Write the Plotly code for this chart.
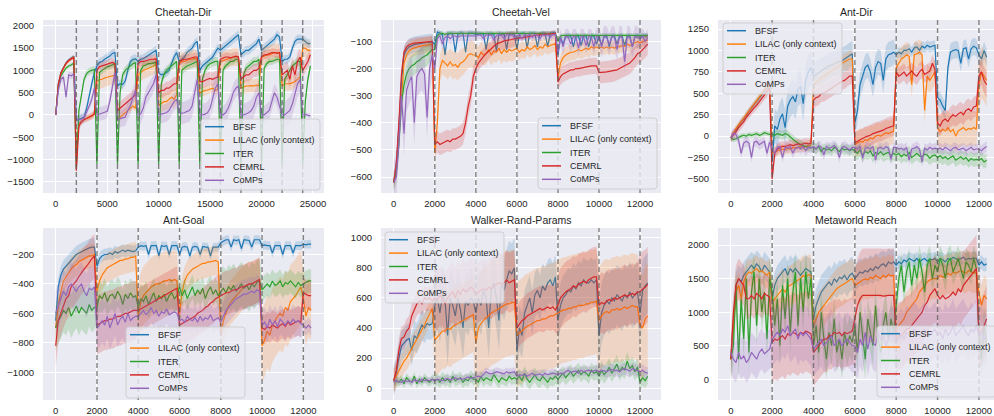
import plotly.graph_objects as go

# ---------------- data ----------------
series_names = ["BFSF", "LILAC (only context)", "ITER", "CEMRL", "CoMPs"]
series_colors = ["#1f77b4", "#ff7f0e", "#2ca02c", "#d62728", "#9467bd"]

panel_titles = ["Cheetah-Dir", "Cheetah-Vel", "Ant-Dir", "Ant-Goal", "Walker-Rand-Params", "Metaworld Reach"]
panel_steps = [250, 125, 125, 125, 125, 125]          # training-step spacing between samples
phase_length = 2000                                     # task switch every 2000 steps
task_switches_long = [2000, 4000, 6000, 8000, 10000, 12000, 14000, 16000, 18000, 20000, 22000, 24000]
task_switches_short = [2000, 4000, 6000, 8000, 10000, 12000]

# Cheetah-Dir (step 250)
cd_bfsf = [0, 700, 950, 1080, 1170, 1230, 1280, 1320,
           -120, -100, -80, -50, 150, 450, 700, 950,
           1100, 1180, 1200, 1250, 1280, 1320, 1380, 1400,
           650, 700, 680, 760, 1000, 1200, 1250, 1260,
           1200, 1250, 1260, 1300, 1350, 1380, 1420, 1450,
           950, 900, 920, 950, 1000, 1150, 1300, 1400,
           1200, 1250, 1300, 1400, 1450, 1500, 1600, 1650,
           1000, 1100, 1150, 1200, 1250, 1300, 1400, 1500,
           1450, 1500, 1550, 1600, 1650, 1700, 1750, 1800,
           1350, 1400, 1450, 1450, 1500, 1550, 1600, 1700,
           1450, 1500, 1550, 1600, 1650, 1700, 1800, 1750,
           1200, 1250, 1250, 1300, 1500, 1650, 1700, 1700,
           1700, 1650, 1600, 1600]
cd_lilac = [0, 680, 930, 1060, 1150, 1210, 1260, 1300,
            -800, -200, -150, -100, -80, -50, -30, 30,
            760, 790, 800, 830, 850, 860, 880, 890,
            -100, -50, 0, 50, 100, 150, 200, 150,
            900, 950, 1000, 1020, 1050, 1080, 1100, 1150,
            200, 250, 300, 300, 350, 400, 350, 450,
            1150, 1200, 1200, 1220, 1250, 1250, 1270, 1250,
            500, 520, 550, 560, 580, 600, 550, 580,
            1200, 1220, 1250, 1270, 1280, 1300, 1300, 1300,
            600, 620, 650, 650, 660, 650, 670, 650,
            1300, 1320, 1350, 1350, 1380, 1400, 1400, 1400,
            650, 700, 700, 700, 720, 750, 800, 850,
            1500, 1500, 1450, 1450]
cd_iter = [0, 650, 880, 980, 1050, 1100, 1120, 1160,
           -1200, 100, 500, 800, 930, 980, 1000, 1020,
           -1100, 950, 1000, 1050, 1080, 1100, 1130, 1150,
           -1100, 500, 900, 1000, 1050, 1100, 1150, 1170,
           -1100, 1000, 1100, 1120, 1150, 1150, 1170, 1180,
           -1100, 700, 900, 1000, 1050, 1100, 1150, 1200,
           -1100, 1000, 1050, 1100, 1120, 1150, 1180, 1200,
           -1100, 800, 1000, 1100, 1150, 1180, 1200, 1200,
           -1100, 1000, 1100, 1150, 1200, 1200, 1250, 1250,
           -1100, 900, 1050, 1100, 1150, 1200, 1200, 1250,
           -1100, 1050, 1150, 1200, 1200, 1220, 1250, 1250,
           -1100, 800, 900, 1000, 1100, 1150, 1200, 1200,
           -1100, 300, 800, 1100]
cd_cemrl = [0, 690, 940, 1070, 1160, 1220, 1260, 1290,
            -1250, -250, -150, -100, -80, -50, -20, 20,
            1000, 1080, 1100, 1120, 1150, 1160, 1180, 1150,
            100, 150, 200, 250, 300, 350, 420, 450,
            1150, 1200, 1200, 1220, 1230, 1250, 1250, 1260,
            500, 550, 550, 600, 600, 650, 700, 700,
            1200, 1230, 1250, 1250, 1270, 1280, 1300, 1300,
            750, 750, 780, 800, 820, 800, 830, 850,
            1250, 1280, 1300, 1300, 1280, 1300, 1320, 1300,
            800, 850, 900, 900, 950, 1000, 1000, 1050,
            1300, 1350, 1350, 1380, 1400, 1400, 1380, 1400,
            900, 950, 1000, 800, 1100, 900, 1200, 1300,
            1000, 1100, 1200, 1350]
cd_comps = [0, 550, 800, 850, 400, 900, 880, 920,
            -100, -100, -90, -70, 50, 200, 350, 600,
            0, 20, 40, 50, 80, 300, 650, 950,
            -100, -80, -60, -50, 100, 200, 400, 550,
            0, 20, 150, 400, 500, 600, 700, 900,
            0, 20, 30, 50, 100, 200, 300, 350,
            50, 40, 50, 80, 100, 200, 500, 800,
            0, 0, 20, 50, 150, 400, 600, 700,
            0, 0, 50, 150, 300, 500, 600, 650,
            0, 0, 20, 50, 100, 200, 400, 500,
            0, 0, 50, 100, 300, 500, 400, 200,
            0, 0, 50, 100, 250, 500, 700, 800,
            0, 10, 0, -20]

# Cheetah-Vel (step 125)
cv_bfsf = [-620, -560, -420, -250, -150, -130, -120, -115, -112, -110, -108, -106, -105, -104, -103, -102,
           -110, -65, -70, -75, -150, -75, -70, -72, -140, -72, -70, -70, -140, -70, -70, -70,
           -75, -72, -72, -72, -130, -72, -72, -72, -135, -72, -72, -72, -130, -72, -72, -72,
           -130, -72, -70, -70, -125, -70, -70, -70, -120, -70, -70, -70, -120, -70, -68, -68,
           -150, -85, -110, -80, -80, -80, -120, -80, -80, -115, -80, -80, -120, -80, -80, -110,
           -80, -115, -80, -80, -120, -80, -80, -110, -80, -80, -115, -80, -80, -120, -80, -80,
           -80, -78, -78, -80]
cv_lilac = [-620, -570, -450, -300, -180, -150, -135, -128, -124, -120, -118, -116, -115, -113, -112, -110,
            -510, -400, -200, -170, -180, -190, -175, -190, -185, -195, -180, -175, -165, -150, -145, -150,
            -150, -160, -140, -150, -145, -130, -150, -135, -140, -125, -145, -130, -140, -130, -135, -130,
            -125, -140, -130, -135, -120, -130, -125, -115, -130, -120, -125, -110, -120, -115, -110, -108,
            -230, -180, -160, -150, -145, -140, -140, -135, -130, -135, -130, -125, -130, -120, -125, -120,
            -125, -120, -125, -120, -125, -120, -125, -118, -120, -115, -118, -110, -115, -110, -105, -100,
            -105, -100, -98, -95]
cv_iter = [-620, -580, -480, -330, -260, -220, -200, -190, -185, -175, -170, -160, -155, -150, -140, -130,
           -130, -80, -70, -70, -75, -70, -70, -70, -72, -70, -70, -70, -72, -70, -70, -70,
           -72, -72, -70, -72, -72, -70, -72, -72, -70, -72, -72, -70, -72, -72, -70, -72,
           -72, -70, -70, -72, -70, -70, -72, -70, -70, -72, -70, -70, -72, -70, -70, -70,
           -100, -80, -78, -78, -80, -78, -78, -80, -78, -78, -80, -78, -78, -80, -78, -78,
           -78, -80, -78, -78, -80, -78, -78, -80, -78, -78, -80, -78, -78, -80, -78, -78,
           -78, -80, -78, -78]
cv_cemrl = [-620, -550, -400, -220, -140, -120, -112, -108, -106, -105, -104, -103, -102, -101, -100, -100,
            -480, -470, -480, -475, -470, -465, -470, -460, -460, -455, -450, -440, -400, -340, -300, -230,
            -200, -180, -165, -155, -145, -135, -125, -118, -110, -105, -100, -98, -96, -95, -93, -90,
            -88, -87, -86, -85, -84, -82, -80, -78, -77, -75, -74, -73, -72, -71, -70, -70,
            -250, -230, -220, -215, -210, -205, -205, -200, -200, -198, -195, -195, -192, -190, -190, -190,
            -215, -215, -213, -212, -210, -210, -208, -205, -200, -195, -190, -185, -180, -170, -160, -145,
            -140, -130, -120, -110]
cv_comps = [-620, -600, -480, -300, -440, -280, -250, -230, -400, -230, -210, -200, -220, -380, -200, -150,
            -200, -90, -80, -110, -85, -80, -90, -80, -80, -85, -80, -80, -80, -80, -80, -80,
            -80, -75, -78, -90, -75, -78, -75, -95, -78, -75, -78, -90, -75, -78, -75, -85,
            -78, -75, -90, -75, -78, -75, -85, -75, -78, -90, -75, -78, -75, -85, -75, -75,
            -140, -85, -120, -82, -85, -110, -82, -85, -125, -82, -85, -115, -82, -85, -120, -82,
            -85, -120, -82, -85, -110, -82, -85, -130, -82, -85, -175, -82, -85, -120, -82, -85,
            -90, -82, -100, -85]

# Ant-Dir (step 125)
ad_bfsf = [-20, 30, 80, 120, 170, 200, 250, 290, 330, 370, 400, 450, 480, 520, 560, 600,
           -300, 120, 80, 200, 260, 100, 350, 420, 460, 400, 550, 580, 380, 650, 750, 800,
           700, 720, 750, 760, 780, 800, 820, 830, 850, 860, 870, 880, 900, 920, 950, 960,
           150, 300, 600, 700, 800, 830, 750, 600, 800, 870, 850, 650, 900, 950, 960, 980,
           950, 980, 960, 1000, 1000, 1020, 980, 1030, 1040, 1000, 1050, 1030, 1060, 1040, 1050, 1060,
           450, 420, 350, 300, 800, 980, 1000, 1010, 1000, 850, 1020, 1030, 900, 1020, 1050, 1030,
           950, 900, 1000, 920]
ad_lilac = [-20, 40, 90, 130, 170, 210, 250, 300, 340, 380, 420, 460, 500, 540, 580, 620,
            -200, -180, -170, -160, -150, -160, -140, -150, -130, -140, -130, -120, -130, -120, -110, -100,
            600, 630, 650, 680, 700, 720, 750, 770, 790, 800, 820, 850, 870, 880, 900, 900,
            -100, -80, -60, -70, -40, -50, -20, -30, 0, 10, 0, 20, 40, 30, 50, 60,
            800, 850, 900, 920, 950, 930, 600, 950, 960, 980, 950, 300, 700, 650, 700, 750,
            100, 50, 80, 60, 100, 50, 80, 0, 60, 80, 100, 70, 90, 80, 100, 80,
            600, 750, 700, 650]
ad_iter = [-20, -40, -30, -10, 0, 10, 0, 20, 10, 20, 30, 10, 20, 40, 30, 20,
           20, 10, 30, 20, 10, 30, 20, -10, -40, -60, -80, -100, -110, -120, -130, -130,
           -130, -150, -120, -180, -140, -160, -150, -170, -130, -150, -180, -140, -160, -150, -170, -150,
           -180, -200, -160, -220, -180, -200, -170, -230, -190, -210, -180, -220, -200, -190, -230, -200,
           -220, -200, -240, -210, -230, -190, -250, -220, -200, -230, -240, -210, -220, -260, -230, -220,
           -250, -230, -260, -240, -270, -250, -230, -280, -260, -240, -270, -250, -290, -260, -280, -270,
           -280, -260, -300, -280]
ad_cemrl = [-20, 10, 50, 100, 130, 170, 220, 260, 300, 330, 360, 400, 430, 470, 510, 560,
            -500, -200, -150, -130, -120, -120, -110, -100, -110, -100, -90, -100, -90, -80, -90, -80,
            420, 450, 460, 500, 500, 520, 550, 560, 580, 600, 620, 640, 650, 680, 700, 700,
            -80, -60, -40, -30, -10, 0, 10, 30, 40, 50, 60, 70, 90, 100, 110, 120,
            750, 700, 720, 750, 700, 730, 760, 720, 700, 750, 780, 720, 740, 760, 850, 780,
            150, 120, 180, 200, 170, 220, 250, 230, 260, 280, 250, 300, 320, 290, 340, 350,
            700, 750, 650, 600]
ad_comps = [-20, 30, 20, -50, -200, -80, -60, -80, -250, -70, -60, -100, -80, -60, -200, -70,
            -150, -200, -130, -120, -250, -130, -140, -120, -200, -140, -130, -150, -120, -170, -130, -140,
            -120, -150, -110, -130, -220, -120, -140, -130, -110, -140, -250, -130, -120, -140, -160, -130,
            -130, -150, -120, -260, -140, -130, -150, -120, -280, -140, -130, -150, -120, -140, -270, -130,
            -130, -150, -140, -160, -130, -280, -150, -140, -120, -150, -300, -140, -160, -130, -150, -140,
            -150, -140, -160, -130, -150, -170, -140, -130, -160, -150, -140, -170, -150, -130, -160, -150,
            -150, -170, -140, -120]

# Ant-Goal (step 125)
ag_bfsf = [-650, -420, -340, -300, -280, -260, -240, -220, -200, -190, -180, -170, -160, -155, -150, -150,
           -280, -230, -210, -200, -200, -190, -200, -180, -190, -180, -170, -180, -170, -175, -180, -175,
           -150, -140, -145, -140, -200, -140, -140, -140, -210, -140, -145, -140, -200, -140, -140, -140,
           -200, -150, -145, -150, -210, -150, -145, -150, -200, -145, -150, -150, -210, -150, -150, -150,
           -120, -110, -100, -100, -150, -100, -105, -100, -160, -100, -100, -105, -150, -100, -100, -100,
           -140, -135, -140, -140, -190, -140, -140, -140, -200, -140, -140, -140, -190, -140, -140, -140,
           -130, -135, -130, -130]
ag_lilac = [-700, -550, -450, -380, -350, -320, -300, -280, -270, -250, -240, -230, -220, -210, -210, -200,
            -450, -380, -340, -310, -290, -280, -270, -260, -250, -240, -240, -230, -230, -220, -220, -210,
            -620, -520, -480, -460, -440, -420, -410, -400, -400, -390, -380, -380, -370, -380, -370, -380,
            -600, -450, -380, -340, -320, -300, -290, -280, -270, -260, -260, -250, -250, -245, -240, -250,
            -750, -650, -600, -550, -520, -500, -480, -460, -440, -420, -410, -400, -400, -390, -380, -370,
            -820, -780, -720, -750, -680, -650, -620, -600, -620, -560, -580, -520, -500, -480, -450, -420,
            -500, -620, -560, -580]
ag_iter = [-700, -650, -620, -580, -600, -560, -620, -580, -550, -600, -560, -580, -600, -540, -580, -560,
           -560, -480, -500, -460, -520, -480, -470, -500, -450, -480, -540, -470, -500, -460, -490, -480,
           -560, -500, -520, -480, -540, -500, -460, -520, -480, -500, -470, -520, -480, -460, -500, -480,
           -420, -480, -440, -500, -460, -420, -480, -440, -470, -430, -500, -450, -420, -470, -440, -480,
           -450, -430, -460, -420, -440, -410, -450, -420, -400, -430, -410, -440, -400, -420, -390, -380,
           -440, -420, -400, -420, -380, -410, -400, -380, -420, -390, -400, -380, -400, -420, -390, -410,
           -400, -390, -380, -380]
ag_cemrl = [-820, -650, -600, -550, -500, -480, -420, -400, -380, -350, -320, -300, -280, -250, -230, -210,
            -680, -670, -660, -650, -650, -640, -640, -630, -620, -620, -610, -600, -600, -590, -580, -580,
            -580, -570, -560, -550, -540, -530, -520, -510, -500, -490, -480, -470, -460, -450, -440, -430,
            -680, -670, -660, -650, -640, -630, -620, -600, -590, -580, -560, -550, -530, -520, -500, -490,
            -480, -470, -460, -460, -450, -440, -440, -430, -420, -420, -410, -400, -400, -390, -380, -370,
            -700, -710, -690, -700, -680, -690, -700, -680, -670, -690, -660, -680, -670, -660, -650, -660,
            -460, -470, -480, -480]
ag_comps = [-600, -550, -500, -450, -480, -420, -400, -430, -450, -420, -400, -450, -480, -430, -440, -420,
            -700, -680, -650, -680, -620, -700, -650, -600, -680, -640, -620, -660, -600, -650, -630, -620,
            -620, -600, -580, -610, -590, -560, -600, -580, -620, -590, -600, -570, -610, -600, -590, -600,
            -650, -640, -660, -620, -640, -650, -630, -660, -620, -650, -630, -640, -610, -650, -640, -630,
            -660, -620, -580, -560, -540, -520, -500, -490, -480, -470, -470, -460, -450, -460, -440, -450,
            -680, -660, -700, -640, -680, -650, -690, -640, -660, -680, -650, -670, -640, -660, -650, -670,
            -680, -700, -680, -700]

# Walker-Rand-Params (step 125)
wk_bfsf = [50, 100, 200, 280, 300, 320, 330, 250, 350, 330, 380, 420, 400, 430, 420, 430,
           550, 600, 500, 620, 580, 350, 600, 550, 480, 600, 520, 400, 580, 550, 600, 580,
           500, 600, 550, 650, 600, 400, 650, 700, 600, 450, 700, 650, 720, 780, 760, 800,
           250, 400, 350, 500, 550, 600, 500, 620, 650, 600, 680, 650, 700, 720, 680, 740,
           450, 550, 600, 620, 650, 640, 680, 660, 700, 680, 720, 700, 700, 720, 700, 720,
           350, 500, 550, 580, 560, 600, 580, 620, 600, 580, 620, 600, 640, 600, 620, 640,
           500, 650, 680, 700]
wk_lilac = [50, 80, 120, 150, 180, 200, 230, 260, 290, 320, 350, 380, 420, 460, 500, 530,
            320, 340, 360, 380, 380, 400, 390, 410, 420, 430, 440, 450, 460, 470, 480, 490,
            300, 400, 430, 450, 470, 480, 500, 510, 520, 530, 540, 550, 560, 560, 570, 570,
            350, 370, 380, 400, 410, 420, 430, 440, 450, 450, 460, 460, 470, 480, 480, 490,
            500, 510, 520, 520, 530, 530, 540, 540, 550, 550, 550, 560, 560, 570, 570, 580,
            450, 480, 500, 510, 500, 520, 520, 530, 520, 530, 540, 530, 540, 550, 540, 540,
            420, 400, 460, 480]
wk_iter = [40, 50, 40, 60, 30, 70, 50, 40, 80, 30, 60, 40, 70, 50, 40, 60,
           50, 60, 40, 70, 50, 60, 40, 80, 50, 60, 70, 40, 60, 50, 80, 60,
           60, 40, 80, 50, 70, 60, 50, 90, 60, 40, 70, 60, 50, 80, 60, 70,
           60, 80, 50, 100, 60, 40, 70, 90, 60, 50, 80, 60, 40, 70, 60, 80,
           60, 80, 100, 70, 90, 110, 80, 100, 120, 90, 110, 100, 80, 120, 100, 110,
           80, 120, 90, 110, 140, 100, 130, 160, 110, 140, 120, 180, 130, 150, 110, 140,
           40, 70, 50, 80]
wk_cemrl = [50, 120, 250, 330, 340, 380, 400, 480, 520, 560, 580, 560, 600, 590, 600, 580,
            600, 580, 620, 590, 560, 600, 620, 640, 600, 650, 620, 660, 640, 650, 670, 660,
            620, 640, 650, 660, 650, 670, 660, 680, 690, 700, 690, 700, 720, 700, 710, 720,
            400, 430, 450, 460, 480, 490, 500, 510, 520, 530, 520, 530, 540, 530, 540, 520,
            550, 600, 620, 640, 650, 660, 680, 670, 690, 700, 710, 700, 720, 730, 740, 740,
            550, 570, 560, 580, 590, 580, 600, 590, 600, 610, 620, 610, 620, 630, 620, 640,
            640, 660, 670, 690]
wk_comps = [40, 50, 45, 40, 50, 45, 50, 40, 55, 50, 45, 60, 50, 55, 50, 60,
            50, 60, 55, 50, 60, 65, 55, 60, 70, 60, 65, 60, 70, 75, 65, 70,
            70, 80, 75, 90, 110, 100, 95, 100, 110, 105, 100, 95, 110, 100, 105, 110,
            80, 90, 85, 95, 80, 90, 100, 85, 90, 95, 85, 100, 90, 95, 100, 95,
            90, 100, 95, 110, 120, 105, 110, 115, 100, 120, 110, 115, 120, 110, 115, 120,
            110, 120, 115, 110, 120, 125, 115, 120, 110, 125, 130, 120, 115, 130, 125, 120,
            110, 120, 105, 100]

# Metaworld Reach (step 125)
mw_bfsf = [300, 900, 1400, 1500, 1450, 1550, 1600, 1650, 1700, 1650, 1720, 1680, 1600, 1700, 1650, 1600,
           1200, 1400, 1500, 1550, 1600, 1650, 1550, 1650, 1600, 1650, 1600, 1550, 1600, 1650, 1620, 1600,
           900, 1100, 1200, 1300, 1350, 1400, 1450, 1400, 1500, 1450, 1520, 1500, 1550, 1480, 1550, 1580,
           1500, 1550, 1600, 1580, 1620, 1600, 1650, 1620, 1680, 1650, 1700, 1720, 1680, 1750, 1720, 1750,
           1700, 1750, 1720, 1780, 1750, 1800, 1780, 1760, 1800, 1750, 1780, 1800, 1760, 1790, 1780, 1800,
           1750, 1800, 1780, 1750, 1800, 1780, 1820, 1800, 1780, 1800, 1820, 1780, 1800, 1790, 1810, 1800,
           1700, 1750, 1700, 1720]
mw_lilac = [300, 800, 1300, 1400, 1200, 1450, 1550, 1600, 1580, 1620, 1650, 1600, 1620, 1580, 1550, 1600,
            1150, 1200, 1250, 1300, 1350, 1300, 1380, 1400, 1420, 1450, 1480, 1500, 1550, 1520, 1560, 1550,
            800, 900, 1000, 1050, 1100, 1150, 1200, 1250, 1300, 1350, 1380, 1400, 1420, 1450, 1480, 1500,
            1400, 1420, 1450, 1480, 1500, 1480, 1520, 1500, 1550, 1520, 1500, 1550, 1520, 1560, 1540, 1550,
            700, 800, 850, 900, 1000, 1050, 1100, 1150, 1200, 1300, 1350, 1400, 1450, 1480, 1500, 1500,
            1500, 1550, 1520, 1550, 1580, 1550, 1600, 1580, 1600, 1620, 1600, 1580, 1620, 1600, 1580, 1600,
            1300, 1100, 1250, 1200]
mw_iter = [300, 500, 1400, 300, 1200, 600, 1500, 400, 1300, 1600, 800, 1500, 1000, 1300, 600, 1500,
           1300, 800, 1200, 500, 1400, 900, 1500, 700, 1300, 1600, 800, 1500, 1000, 1600, 1200, 1500,
           500, 800, 400, 1000, 600, 300, 700, 500, 900, 400, 600, 300, 700, 500, 650, 550,
           800, 400, 1000, 600, 300, 900, 700, 500, 1100, 600, 400, 800, 1000, 600, 900, 700,
           1100, 1500, 1700, 1300, 1600, 1750, 1400, 1700, 1500, 1800, 1600, 1300, 1700, 1800, 1500, 1700,
           1600, 1800, 1700, 1500, 1750, 1800, 1600, 1700, 1800, 1650, 1500, 1750, 1700, 1600, 1800, 1650,
           700, 300, 800, 500]
mw_cemrl = [300, 1000, 1400, 1500, 1450, 1400, 1200, 1200, 1250, 1200, 1280, 1250, 1200, 1280, 1250, 1230,
            550, 600, 580, 620, 650, 600, 680, 650, 700, 680, 650, 700, 680, 720, 700, 680,
            400, 450, 500, 550, 600, 600, 650, 650, 700, 680, 700, 650, 700, 680, 700, 720,
            900, 1100, 1200, 1250, 1250, 1250, 1250, 1260, 1250, 1250, 1250, 1240, 1250, 1250, 1250, 1250,
            600, 650, 650, 700, 750, 750, 800, 850, 900, 950, 1000, 1100, 1150, 1250, 1300, 1350,
            1250, 1200, 1250, 1200, 1220, 1250, 1300, 1250, 1350, 1300, 1400, 1450, 1500, 1550, 1600, 1650,
            650, 700, 800, 900]
mw_comps = [400, 300, 250, 400, 300, 350, 250, 300, 400, 350, 300, 400, 450, 380, 420, 450,
            600, 650, 700, 650, 750, 700, 800, 650, 700, 750, 600, 700, 650, 700, 650, 600,
            450, 500, 550, 600, 500, 550, 600, 650, 500, 550, 600, 500, 550, 600, 550, 500,
            500, 400, 600, 500, 700, 450, 650, 550, 500, 700, 600, 650, 500, 600, 700, 650,
            550, 600, 650, 600, 700, 650, 700, 750, 700, 650, 700, 750, 700, 650, 700, 750,
            650, 700, 600, 750, 650, 700, 800, 650, 700, 750, 800, 700, 650, 750, 700, 800,
            650, 700, 600, 650]

# half-width of the shaded confidence band, one value per task phase
cd_band = [[40, 100, 100, 100, 100, 100, 100, 100, 100, 100, 100, 100, 100],
           [40, 60, 200, 80, 200, 200, 200, 100, 200, 150, 200, 150, 200],
           [40, 80, 80, 100, 80, 100, 100, 100, 80, 100, 80, 100, 100],
           [40, 80, 100, 150, 100, 150, 100, 150, 100, 150, 100, 200, 150],
           [80, 100, 150, 200, 200, 200, 250, 250, 200, 250, 200, 300, 50]]
cv_band = [[30, 10, 8, 8, 10, 10, 10],
           [30, 50, 40, 30, 30, 25, 20],
           [40, 8, 8, 8, 8, 8, 8],
           [20, 40, 30, 10, 30, 40, 40],
           [80, 20, 15, 15, 30, 40, 30]]
ad_band = [[40, 200, 150, 150, 60, 100, 100],
           [40, 60, 100, 150, 150, 200, 300],
           [30, 50, 60, 80, 80, 80, 80],
           [50, 60, 100, 120, 100, 120, 150],
           [60, 60, 60, 60, 60, 60, 60]]
ag_band = [[60, 40, 30, 30, 30, 30, 30],
           [80, 100, 200, 100, 150, 250, 200],
           [150, 100, 100, 80, 150, 80, 80],
           [150, 200, 150, 150, 150, 100, 100],
           [150, 150, 100, 80, 100, 100, 50]]
wk_band = [[100, 200, 200, 150, 150, 200, 200],
           [80, 250, 350, 350, 350, 350, 350],
           [30, 40, 40, 50, 50, 60, 50],
           [80, 200, 200, 150, 200, 200, 250],
           [20, 25, 30, 30, 30, 40, 40]]
mw_band = [[200, 200, 250, 200, 100, 100, 100],
           [200, 300, 300, 300, 300, 300, 300],
           [300, 300, 300, 300, 200, 200, 300],
           [300, 600, 500, 700, 500, 500, 500],
           [300, 400, 400, 400, 400, 400, 400]]

# ---------------- figure ----------------
panel_series = [
    [cd_bfsf, cd_lilac, cd_iter, cd_cemrl, cd_comps],
    [cv_bfsf, cv_lilac, cv_iter, cv_cemrl, cv_comps],
    [ad_bfsf, ad_lilac, ad_iter, ad_cemrl, ad_comps],
    [ag_bfsf, ag_lilac, ag_iter, ag_cemrl, ag_comps],
    [wk_bfsf, wk_lilac, wk_iter, wk_cemrl, wk_comps],
    [mw_bfsf, mw_lilac, mw_iter, mw_cemrl, mw_comps],
]
panel_bands = [cd_band, cv_band, ad_band, ag_band, wk_band, mw_band]

W, H = 994, 416
# plot areas in pixels (left, right, top, bottom)
col_px = [(43, 324), (381, 661), (718, 994)]
row_px = [(20, 193), (228, 400)]
x_ranges = [[-1240, 26070], [-620, 13020], [-620, 12730], [-615, 13000], [-620, 13020], [-620, 12730]]
y_ranges = [[-1750, 2130], [-659, -21], [-663, 1355], [-1189, -20], [-78, 1064], [-308, 2254]]
x_dticks = [5000, 2000, 2000, 2000, 2000, 2000]
y_dticks = [500, 100, 250, 200, 200, 500]

# legend boxes (left, top) in pixels
legend_boxes = [(201, 119), (538, 118), (723, 23), (126, 327), (385, 232), (877, 326)]
LEG_W, LEG_H = 119, 71


def rgba(hex_color, a):
    h = hex_color.lstrip("#")
    return "rgba(%d,%d,%d,%.2f)" % (int(h[0:2], 16), int(h[2:4], 16), int(h[4:6], 16), a)


def px_x(v):
    return v / W


def px_y(v):
    return 1 - v / H


fig = go.Figure()
text_color = "#262626"
font_family = "Liberation Sans, Arial, sans-serif"
layout = dict(
    width=W, height=H,
    margin=dict(l=0, r=0, t=0, b=0, autoexpand=False),
    paper_bgcolor="white", plot_bgcolor="#EAEAF2",
    font=dict(family=font_family, size=10, color=text_color),
    showlegend=False,
)
annotations = []
shapes = []

for p in range(6):
    r, c = divmod(p, 3)
    ax = "" if p == 0 else str(p + 1)
    xname, yname = "x" + ax, "y" + ax
    step = panel_steps[p]
    for s in range(5):
        vals = panel_series[p][s]
        xs = [i * step for i in range(len(vals))]
        widths = panel_bands[p][s]
        upper = [v + widths[min(int(x // phase_length), len(widths) - 1)] for x, v in zip(xs, vals)]
        lower = [v - widths[min(int(x // phase_length), len(widths) - 1)] for x, v in zip(xs, vals)]
        fig.add_trace(go.Scatter(
            x=xs + xs[::-1], y=upper + lower[::-1], fill="toself",
            fillcolor=rgba(series_colors[s], 0.2), line=dict(width=0),
            mode="lines", hoverinfo="skip", showlegend=False,
            xaxis=xname, yaxis=yname))
        fig.add_trace(go.Scatter(
            x=xs, y=vals, mode="lines", name=series_names[s],
            line=dict(color=series_colors[s], width=1.2),
            showlegend=False, xaxis=xname, yaxis=yname))

    l, rr = col_px[c]
    t, b = row_px[r]
    axis_common = dict(showgrid=True, gridcolor="white", gridwidth=1, zeroline=False,
                       showline=False, ticks="", tickfont=dict(size=9.5, color=text_color),
                       tickformat="d")
    layout["xaxis" + ax] = dict(axis_common, domain=[l / W, rr / W], range=x_ranges[p],
                                anchor=yname, tick0=0, dtick=x_dticks[p], ticklabelstandoff=3)
    layout["yaxis" + ax] = dict(axis_common, domain=[1 - b / H, 1 - t / H], range=y_ranges[p],
                                anchor=xname, tick0=0, dtick=y_dticks[p], ticklabelstandoff=8)
    annotations.append(dict(text=panel_titles[p], x=(l + rr) / 2 / W, y=1 - (t - 8) / H,
                            xref="paper", yref="paper", showarrow=False,
                            xanchor="center", yanchor="middle",
                            font=dict(size=10.5, color=text_color)))
    switches = task_switches_long if p == 0 else task_switches_short
    for sx in switches:
        shapes.append(dict(type="line", xref=xname, yref=yname + " domain",
                           x0=sx, x1=sx, y0=0, y1=1, layer="above",
                           line=dict(color="rgba(90,90,90,0.75)", width=1.4, dash="5px,3px")))

    # legend box drawn as a rounded rectangle with line samples and labels
    L, T = legend_boxes[p]
    R, B = L + LEG_W, T + LEG_H
    rad = 3
    path = ("M %f,%f L %f,%f Q %f,%f %f,%f L %f,%f Q %f,%f %f,%f L %f,%f Q %f,%f %f,%f L %f,%f Q %f,%f %f,%f Z" % (
        px_x(L + rad), px_y(T), px_x(R - rad), px_y(T), px_x(R), px_y(T), px_x(R), px_y(T + rad),
        px_x(R), px_y(B - rad), px_x(R), px_y(B), px_x(R - rad), px_y(B),
        px_x(L + rad), px_y(B), px_x(L), px_y(B), px_x(L), px_y(B - rad),
        px_x(L), px_y(T + rad), px_x(L), px_y(T), px_x(L + rad), px_y(T)))
    shapes.append(dict(type="path", xref="paper", yref="paper", path=path, layer="above",
                       fillcolor="rgba(234,234,242,0.8)",
                       line=dict(color="rgba(204,204,204,0.9)", width=1)))
    for s in range(5):
        cy = T + 7.7 + 13.4 * s
        shapes.append(dict(type="line", xref="paper", yref="paper", layer="above",
                           x0=px_x(L + 4), x1=px_x(L + 23), y0=px_y(cy), y1=px_y(cy),
                           line=dict(color=series_colors[s], width=1.5)))
        annotations.append(dict(text=series_names[s], x=px_x(L + 30), y=px_y(cy),
                                xref="paper", yref="paper", showarrow=False,
                                xanchor="left", yanchor="middle",
                                font=dict(size=9, color=text_color)))

layout["annotations"] = annotations
layout["shapes"] = shapes
fig.update_layout(**layout)
fig.write_html("out.html", config={"displayModeBar": False},
               post_script="document.body.style.margin='0px';")
